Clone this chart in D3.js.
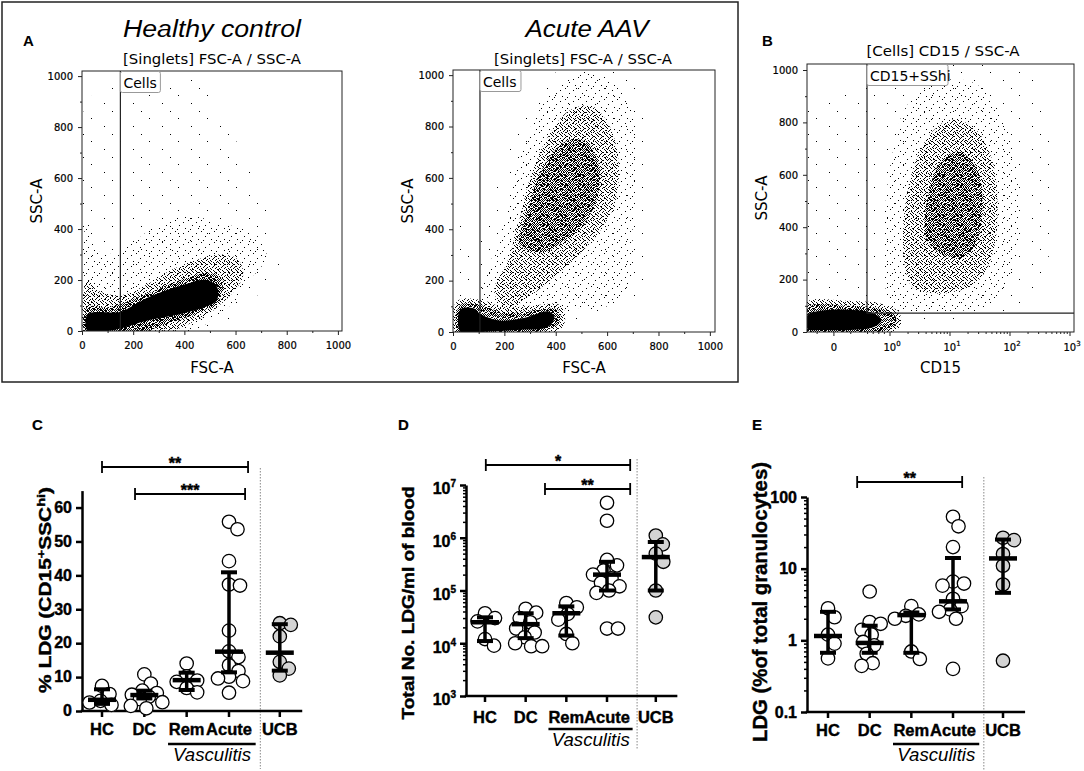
<!DOCTYPE html>
<html>
<head>
<meta charset="utf-8">
<title>LDG figure</title>
<script src="https://cdn.jsdelivr.net/npm/d3@7"></script>
<style>
  body { margin: 0; background: #fff; }
  .flow text { font-family: "DejaVu Sans", sans-serif; fill: #000; }
  .flow .tick text { font-size: 10px; stroke: #000; stroke-width: 0.2; }
  .flow .tick line, .flow .domain { stroke: #222; }
  .prism text { font-family: "Liberation Sans", Arial, sans-serif; font-weight: bold; fill: #000; stroke: #000; stroke-width: 0.4; }
  .prism .tick text { font-size: 16px; }
  .prism .domain, .prism .tick line { stroke: #000; stroke-width: 2.5; }
  .prism .minor .tick line { stroke-width: 1.5; }
</style>
</head>
<body>
<script>
//---------------- data ----------------

//group names on the dot plots
var groups = ["HC", "DC", "Rem", "Acute", "UCB"];

//C: % LDG (CD15+ SSC hi)
var pctPoints = [
  [7.4, 5.0, 3.0, 2.5, 1.8],
  [10.8, 8.1, 6.0, 5.3, 4.8, 4.2, 3.5, 2.6, 1.5, 0.8],
  [14.0, 10.2, 9.0, 8.6, 6.8, 5.5],
  [55.8, 53.6, 44.2, 37.3, 37.0, 23.7, 17.6, 15.9, 13.5, 11.8, 10.1, 9.6, 8.8, 5.4],
  [25.9, 25.4, 22.0, 14.5, 12.5, 10.5]
];
var pctMedian = [3.3, 4.7, 9.1, 17.5, 17.2];
var pctLow = [2.1, 3.7, 6.2, 11.4, 11.9];
var pctHigh = [6.4, 6.0, 11.3, 40.9, 25.6];

//D: total number of LDG per ml of blood
var countPoints = [
  [3.7e4, 3.0e4, 2.6e4, 1.2e4, 9e3],
  [4.5e4, 3.8e4, 3.0e4, 2.5e4, 1.9e4, 1.6e4, 1.3e4, 1.0e4, 8.8e3, 8.8e3],
  [5.8e4, 4.8e4, 3.6e4, 2.8e4, 1.5e4, 1.0e4],
  [4.6e6, 2.1e6, 3.8e5, 3.0e5, 2.4e5, 2.0e5, 1.7e5, 1.4e5, 1.2e5, 1.0e5, 9e4, 1.9e4, 1.9e4],
  [1.1e6, 7.5e5, 5.0e5, 3.5e5, 1.0e5, 3.1e4]
];
var countMedian = [2.5e4, 2.3e4, 3.7e4, 2.0e5, 4.3e5];
var countLow = [1.1e4, 1.25e4, 1.4e4, 1.0e5, 1.0e5];
var countHigh = [3.1e4, 3.7e4, 5.0e4, 3.5e5, 8.3e5];

//E: LDG as % of total granulocytes
var granPoints = [
  [2.8, 2.1, 1.2, 0.9, 0.56],
  [4.8, 1.8, 1.7, 1.4, 1.2, 0.95, 0.85, 0.65, 0.48, 0.44],
  [3.0, 2.3, 2.2, 2.0, 0.7, 0.55],
  [53, 39, 20, 6.6, 6.2, 5.8, 3.8, 3.0, 2.7, 2.5, 2.0, 0.4],
  [27, 25, 16, 11, 6.0, 0.52]
];
var granMedian = [1.15, 0.92, 2.25, 3.5, 13.9];
var granLow = [0.67, 0.67, 0.67, 2.7, 4.6];
var granHigh = [2.5, 1.6, 2.45, 14.1, 25.5];

//tick values
var flowTicks = [0, 200, 400, 600, 800, 1000];
var flowMinor = [100, 300, 500, 700, 900];
var cd15Ticks = [0, 1, 10, 100, 1000];
var pctTicks = [0, 10, 20, 30, 40, 50, 60];
var countTicks = [1e3, 1e4, 1e5, 1e6, 1e7];
var granTicks = [0.1, 1, 10, 100];

//flow plots: outlines of the dot clouds, [FSC/CD15, SSC], by dot density
var hcSolid = [[22,0],[22,65],[150,75],[200,100],[264,134],[394,180],[485,200],[527,175],[527,120],[485,96],[394,69],[264,43],[200,25],[150,10],[100,0]];
var hcDense = [[22,0],[22,95],[100,92],[200,125],[300,165],[400,205],[500,228],[545,205],[545,150],[500,95],[400,50],[300,18],[250,0]];
var hcMid = [[22,0],[22,200],[60,160],[150,140],[250,180],[350,240],[450,280],[550,300],[610,280],[630,220],[580,140],[480,60],[380,10],[360,0]];
var hcSparse = [[22,0],[22,420],[80,300],[200,350],[300,420],[420,450],[550,420],[660,390],[720,330],[700,250],[620,180],[520,80],[450,0]];
var hcFaint = [[22,0],[22,900],[100,950],[250,960],[420,1000],[520,900],[600,750],[720,480],[780,250],[720,180],[600,50],[500,0]];

var aavSolid = [[29,0],[29,88],[80,92],[107,70],[180,45],[280,55],[370,80],[395,60],[370,20],[250,8],[150,3],[107,0]];
var aavLowDense = [[29,0],[29,105],[107,105],[200,75],[320,85],[410,85],[410,30],[300,5],[200,0]];
var aavCore = [[260,340],[290,470],[330,600],[390,700],[460,750],[530,730],[570,640],[560,520],[510,420],[440,360],[350,310]];
var aavMid = [[160,160],[210,270],[255,420],[300,600],[370,760],[450,860],[540,880],[610,800],[645,660],[630,500],[570,390],[490,300],[400,220],[300,140],[210,90]];
var aavSide = [[440,130],[470,230],[560,280],[660,240],[680,160],[600,100],[500,90]];
var aavSparse = [[105,80],[140,250],[200,430],[260,680],[340,870],[450,990],[600,990],[700,850],[720,650],[700,420],[690,200],[620,110],[450,90],[300,60]];
var aavFaint = [[29,80],[29,420],[80,320],[170,560],[260,830],[400,1010],[660,1010],[760,850],[750,500],[720,150],[560,60],[150,50]];

var cdSolid = [[-0.47,12],[-0.47,65],[-0.2,82],[0.3,85],[0.7,72],[0.85,45],[0.7,18],[0.3,8],[-0.2,8]];
var cdLowDense = [[-0.47,0],[-0.47,95],[0.2,100],[0.8,90],[1.2,65],[1.25,30],[0.9,5],[0.3,0]];
var cdCore = [[4,360],[4.5,540],[7,650],[14,690],[28,620],[35,470],[26,330],[14,280],[7,300]];
var cdMid = [[1.8,240],[1.7,430],[2.4,620],[4.5,750],[10,810],[25,780],[50,660],[62,450],[50,290],[28,190],[10,150],[4.5,150],[2.4,170]];
var cdSparse = [[1.1,90],[0.9,380],[1.1,680],[2,870],[8,960],[30,940],[90,780],[140,500],[110,230],[50,110],[15,80],[3,75]];
var cdFaint = [[-0.47,100],[-0.47,870],[0.3,920],[0.9,1000],[40,1020],[250,960],[500,650],[400,250],[150,100],[40,70],[1,90],[0.5,110]];

//---------------- drawing ----------------
var width = 1084,
    height = 771;

var svg = d3.select("body")
    .append("svg")
    .attr("width", width)
    .attr("height", height);

var defs = svg.append("defs");

//stipple patterns standing in for the cytometer dots
var patterns = {
  faint: {w: 29, h: 23, dots: [[4,3],[17,11],[25,19]]},
  sparse: {w: 13, h: 11, dots: [[1,2],[6,0],[10,5],[3,8],[8,9]]},
  mid: {w: 9, h: 8, dots: [[0,0],[4,0],[7,1],[2,2],[5,3],[8,4],[1,5],[6,6],[3,7],[0,3],[4,5],[7,7],[2,6],[6,2],[3,4],[8,0]]},
  dense: {w: 6, h: 5, dots: [[0,0],[2,0],[4,0],[1,1],[3,1],[5,2],[0,2],[2,3],[4,3],[1,4],[3,4],[5,4]]}
};
//the next lighter texture, used to feather the edge of every zone
var lighter = {solid: "dense", dense: "mid", mid: "sparse", sparse: "faint"};
var edgeWidth = {solid: 5, dense: 10, mid: 14, sparse: 16};

Object.keys(patterns).forEach(function(k){
  var p = patterns[k];
  defs.append("pattern")
      .attr("id", "pat-" + k)
      .attr("patternUnits", "userSpaceOnUse")
      .attr("width", p.w)
      .attr("height", p.h)
    .selectAll("rect")
    .data(p.dots)
    .join("rect")
      .attr("x", function(d){ return d[0]; })
      .attr("y", function(d){ return d[1]; })
      .attr("width", 1)
      .attr("height", 1)
      .attr("fill", "#000");
});

//frame round panel A
svg.append("rect")
    .attr("x", 2).attr("y", 2)
    .attr("width", 736).attr("height", 380)
    .attr("fill", "none")
    .attr("stroke", "#222")
    .attr("stroke-width", 1.5);

function flowPanel(cfg){
  var box = cfg.box; //left, top, right, bottom
  var g = svg.append("g").attr("class", "flow");

  defs.append("clipPath").attr("id", cfg.id)
    .append("rect")
      .attr("x", box[0]).attr("y", box[1])
      .attr("width", box[2] - box[0]).attr("height", box[3] - box[1]);

  var shape = d3.line()
      .x(function(d){ return cfg.x(d[0]); })
      .y(function(d){ return cfg.y(d[1]); })
      .curve(d3.curveCatmullRomClosed);

  g.append("g")
      .attr("clip-path", "url(#" + cfg.id + ")")
    .selectAll("path")
    .data(cfg.zones)
    .join("path")
      .attr("d", function(d){ return shape(d[0]); })
      .attr("fill", function(d){ return d[1] == "solid" ? "#000" : "url(#pat-" + d[1] + ")"; })
      .attr("stroke", function(d){ return lighter[d[1]] ? "url(#pat-" + lighter[d[1]] + ")" : "none"; })
      .attr("stroke-width", function(d){ return edgeWidth[d[1]] || 0; })
      .attr("stroke-linejoin", "round");

  g.append("rect")
      .attr("x", box[0]).attr("y", box[1])
      .attr("width", box[2] - box[0]).attr("height", box[3] - box[1])
      .attr("fill", "none")
      .attr("stroke", "#222");

  //y axis, major and minor ticks
  g.append("g")
      .attr("transform", "translate(" + box[0] + ",0)")
      .call(d3.axisLeft(cfg.y).tickValues(flowTicks).tickFormat(d3.format("d")).tickSize(4).tickPadding(5).tickSizeOuter(0));
  g.append("g")
      .attr("transform", "translate(" + box[0] + ",0)")
      .call(d3.axisLeft(cfg.y).tickValues(flowMinor).tickSize(2).tickFormat("").tickSizeOuter(0));

  //x axis
  if (cfg.drawX) {
    cfg.drawX(g, box);
  } else {
    g.append("g")
        .attr("transform", "translate(0," + box[3] + ")")
        .call(d3.axisBottom(cfg.x).tickValues(flowTicks).tickFormat(d3.format("d")).tickSize(4).tickPadding(7).tickSizeOuter(0));
    g.append("g")
        .attr("transform", "translate(0," + box[3] + ")")
        .call(d3.axisBottom(cfg.x).tickValues(flowMinor).tickSize(2).tickFormat("").tickSizeOuter(0));
  }
  g.selectAll(".domain").remove();

  //gate
  g.append("path")
      .attr("d", cfg.gate)
      .attr("fill", "none")
      .attr("stroke", "#222")
      .attr("stroke-width", 1.2);
  g.append("rect")
      .attr("x", cfg.gateBox[0]).attr("y", box[1] + 0.5)
      .attr("width", cfg.gateBox[1]).attr("height", 21)
      .attr("rx", 2)
      .attr("fill", "#fff")
      .attr("stroke", "#999");
  g.append("text")
      .attr("x", cfg.gateBox[0] + 3).attr("y", box[1] + 17)
      .style("font-size", "14px")
      .text(cfg.gateName);

  //axis titles
  g.append("text")
      .attr("transform", "translate(" + (box[0] - 40) + "," + ((box[1] + box[3]) / 2) + ") rotate(-90)")
      .attr("text-anchor", "middle")
      .style("font-size", "15px")
      .text("SSC-A");
  g.append("text")
      .attr("x", (box[0] + box[2]) / 2).attr("y", 373)
      .attr("text-anchor", "middle")
      .style("font-size", "15px")
      .text(cfg.xTitle);
  g.append("text")
      .attr("x", cfg.subX).attr("y", cfg.subY)
      .attr("text-anchor", "middle")
      .attr("textLength", cfg.subLen)
      .attr("lengthAdjust", "spacingAndGlyphs")
      .style("font-size", "14.5px")
      .text(cfg.sub);
  return g;
}

//A, healthy control
var hcX = d3.scaleLinear().domain([0, 1016]).range([82, 342]);
var hcY = d3.scaleLinear().domain([0, 1020]).range([331, 71]);
flowPanel({
  id: "clipHC", box: [82, 71, 342, 331], x: hcX, y: hcY,
  zones: [[hcFaint, "faint"], [hcSparse, "sparse"], [hcMid, "mid"], [hcDense, "dense"], [hcSolid, "solid"]],
  gate: "M" + hcX(150) + "," + 71 + "V" + 331,
  gateBox: [hcX(150), 40], gateName: "Cells",
  xTitle: "FSC-A", sub: "[Singlets] FSC-A / SSC-A", subX: 212, subY: 64, subLen: 178
});

//A, acute AAV
var aavX = d3.scaleLinear().domain([0, 1020]).range([453, 715]);
var aavY = d3.scaleLinear().domain([0, 1020]).range([332, 70]);
flowPanel({
  id: "clipAAV", box: [453, 70, 715, 332], x: aavX, y: aavY,
  zones: [[aavFaint, "faint"], [aavSparse, "sparse"], [aavSide, "sparse"], [aavMid, "mid"], [aavCore, "dense"], [aavLowDense, "dense"], [aavSolid, "solid"]],
  gate: "M" + aavX(105) + "," + 70 + "V" + 332,
  gateBox: [aavX(105), 41], gateName: "Cells",
  xTitle: "FSC-A", sub: "[Singlets] FSC-A / SSC-A", subX: 583, subY: 64, subLen: 178
});

//B, CD15 on a linear-then-log (biexponential like) axis
var cdLin = d3.scaleLinear().domain([-0.48, 1]).range([807, 890]);
var cdLog = d3.scaleLog().domain([1, 1000]).range([890, 1070]);
function cdX(v){ return v <= 1 ? cdLin(v) : cdLog(v); }
var cdY = d3.scaleLinear().domain([0, 1000]).range([332, 70]);
var cdMinor = [-0.3, 0.3, 0.6, 0.7, 0.8, 0.9];
[1, 10, 100].forEach(function(dec){ d3.range(2, 10).forEach(function(m){ cdMinor.push(dec * m); }); });

flowPanel({
  id: "clipCD", box: [807, 64, 1074, 332], x: cdX, y: cdY,
  zones: [[cdFaint, "faint"], [cdSparse, "sparse"], [cdMid, "mid"], [cdCore, "dense"], [cdLowDense, "dense"], [cdSolid, "solid"]],
  gate: "M" + cdX(0.59) + "," + 64 + "V" + cdY(72) + "H" + 1074,
  gateBox: [cdX(0.59), 81], gateName: "CD15+SShi",
  xTitle: "CD15", sub: "[Cells] CD15 / SSC-A", subX: 943, subY: 56, subLen: 153,
  drawX: function(g, box){
    g.selectAll(".cdmaj").data(cd15Ticks).join("line")
        .attr("x1", cdX).attr("x2", cdX)
        .attr("y1", box[3]).attr("y2", box[3] + 4)
        .attr("stroke", "#222");
    g.selectAll(".cdmin").data(cdMinor).join("line")
        .attr("x1", cdX).attr("x2", cdX)
        .attr("y1", box[3]).attr("y2", box[3] + 2)
        .attr("stroke", "#222");
    g.selectAll(".cdlab").data(cd15Ticks).join("text")
        .attr("x", function(d){ return cdX(d) + (d == 0 ? 0 : 2); })
        .attr("y", box[3] + 19)
        .attr("text-anchor", "middle")
        .style("font-size", "10px")
        .style("stroke", "#000").style("stroke-width", 0.2)
        .each(function(d){
          var t = d3.select(this);
          if (d == 0) { t.text("0"); return; }
          t.append("tspan").text("10");
          t.append("tspan").attr("dy", -5).style("font-size", "7px").text(Math.round(Math.log10(d)));
        });
  }
});

//flow titles and panel letters
svg.append("text")
    .attr("x", 212).attr("y", 37)
    .attr("text-anchor", "middle")
    .attr("textLength", 178).attr("lengthAdjust", "spacingAndGlyphs")
    .style("font", "italic 23px 'Liberation Sans', Arial, sans-serif")
    .text("Healthy control");
svg.append("text")
    .attr("x", 587).attr("y", 37)
    .attr("text-anchor", "middle")
    .attr("textLength", 123).attr("lengthAdjust", "spacingAndGlyphs")
    .style("font", "italic 23px 'Liberation Sans', Arial, sans-serif")
    .text("Acute AAV");
svg.append("text").attr("x", 23).attr("y", 46)
    .style("font", "bold 15px 'Liberation Sans', Arial, sans-serif").text("A");
svg.append("text").attr("x", 762).attr("y", 46)
    .style("font", "bold 15px 'Liberation Sans', Arial, sans-serif").text("B");

//---------------- dot plots C, D, E ----------------
var catPos = [0, 1, 2, 3, 4.2];

//spread points sideways so that they do not sit on each other
function swarm(vals, y, cx){
  var placed = [];
  vals.slice().sort(d3.descending).forEach(function(v){
    var py = y(v), bestOff = 0, bestGap = -1;
    for (var k = 0; k <= 72; k++) {
      var off = (k % 2 ? 1 : -1) * Math.ceil(k / 2) * 0.5;
      var gap = d3.min(placed, function(p){ return Math.hypot(p.x - cx - off, p.y - py); });
      if (gap === undefined || gap >= 11) { bestOff = off; break; }
      if (gap > bestGap) { bestGap = gap; bestOff = off; }
    }
    placed.push({x: cx + bestOff, y: py});
  });
  return placed;
}

function supLabel(sel, base, exp, dy, size){
  sel.append("tspan").text(base);
  sel.append("tspan").attr("dy", dy).style("font-size", size).text(exp);
}

function dotPanel(cfg){
  var g = svg.append("g").attr("class", "prism");
  var x = cfg.x, y = cfg.y, left = cfg.left, bottom = cfg.bottom;

  //divider before UCB
  g.append("line")
      .attr("x1", x(3.74)).attr("x2", x(3.74))
      .attr("y1", cfg.divTop).attr("y2", cfg.divBottom)
      .attr("stroke", "#888")
      .attr("stroke-dasharray", "1.5,1.5");

  //y axis
  var ax = g.append("g")
      .attr("transform", "translate(" + left + ",0)")
      .call(d3.axisLeft(y).tickValues(cfg.ticks).tickSize(6).tickPadding(4).tickSizeOuter(0)
        .tickFormat(cfg.tickText ? "" : cfg.fmt));
  if (cfg.tickText) {
    ax.selectAll(".tick text").each(function(d){ cfg.tickText(d3.select(this), d); });
  }
  ax.selectAll(".tick text").attr("dy", cfg.tickDy);
  if (cfg.minor) {
    g.append("g")
        .attr("class", "minor")
        .attr("transform", "translate(" + left + ",0)")
        .call(d3.axisLeft(y).tickValues(cfg.minor).tickSize(3).tickFormat("").tickSizeOuter(0))
      .select(".domain").remove();
  }

  //x axis
  g.append("line")
      .attr("x1", left - 1.25).attr("x2", x(4.73))
      .attr("y1", bottom).attr("y2", bottom)
      .attr("stroke", "#000").attr("stroke-width", 2.5);
  g.selectAll(".cat").data(groups).join("line")
      .attr("x1", function(d, i){ return x(catPos[i]); })
      .attr("x2", function(d, i){ return x(catPos[i]); })
      .attr("y1", bottom).attr("y2", bottom + 6)
      .attr("stroke", "#000").attr("stroke-width", 2.5);
  g.selectAll(".catlab").data(groups).join("text")
      .attr("x", function(d, i){ return x(catPos[i]); })
      .attr("y", cfg.catY)
      .attr("text-anchor", "middle")
      .style("font-size", "16.5px")
      .text(function(d){ return d; });

  //Vasculitis bracket
  g.append("line")
      .attr("x1", x(1.56)).attr("x2", x(3.63))
      .attr("y1", cfg.vascY).attr("y2", cfg.vascY)
      .attr("stroke", "#000").attr("stroke-width", 2.5);
  g.append("text")
      .attr("x", x(2.6)).attr("y", cfg.vascY + 17)
      .attr("text-anchor", "middle")
      .attr("textLength", 78).attr("lengthAdjust", "spacingAndGlyphs")
      .style("font-weight", "normal").style("font-style", "italic").style("font-size", "18px")
      .style("stroke-width", 0)
      .text("Vasculitis");

  //points
  cfg.points.forEach(function(vals, i){
    g.append("g").selectAll("circle")
      .data(swarm(vals, y, x(catPos[i])))
      .join("circle")
        .attr("cx", function(d){ return d.x; })
        .attr("cy", function(d){ return d.y; })
        .attr("r", 6.7)
        .attr("fill", i == 4 ? "#d4d4d4" : "#fff")
        .attr("stroke", "#000")
        .attr("stroke-width", 1.3);
  });

  //median with range
  groups.forEach(function(name, i){
    var cx = x(catPos[i]);
    g.append("line")
        .attr("x1", cx).attr("x2", cx)
        .attr("y1", y(cfg.low[i])).attr("y2", y(cfg.high[i]))
        .attr("stroke", "#000").attr("stroke-width", 3.5);
    [cfg.low[i], cfg.high[i]].forEach(function(v){
      g.append("line")
          .attr("x1", cx - 8).attr("x2", cx + 8)
          .attr("y1", y(v)).attr("y2", y(v))
          .attr("stroke", "#000").attr("stroke-width", 4);
    });
    g.append("line")
        .attr("x1", cx - 14).attr("x2", cx + 14)
        .attr("y1", y(cfg.median[i])).attr("y2", y(cfg.median[i]))
        .attr("stroke", "#000").attr("stroke-width", 4.5);
  });

  //significance bars
  cfg.sig.forEach(function(s){
    var x1 = x(s[0]), x2 = x(s[1]);
    g.append("path")
        .attr("d", "M" + x1 + "," + (s[2] - 6) + "V" + (s[2] + 6) + "M" + x1 + "," + s[2] + "H" + x2 +
                   "M" + x2 + "," + (s[2] - 6) + "V" + (s[2] + 6))
        .attr("fill", "none").attr("stroke", "#000").attr("stroke-width", 1.8);
    g.append("text")
        .attr("x", (x1 + x2) / 2).attr("y", s[2] + 2)
        .attr("text-anchor", "middle")
        .style("font-size", "16px")
        .text(s[3]);
  });

  //y title and panel letter
  var yt = g.append("text")
      .attr("transform", "translate(" + cfg.title[0] + "," + cfg.title[1] + ") rotate(-90)")
      .attr("text-anchor", "middle")
      .attr("textLength", cfg.title[3]).attr("lengthAdjust", "spacingAndGlyphs")
      .style("font-size", cfg.title[2]);
  cfg.titleText(yt);
  g.append("text")
      .attr("x", cfg.letter[1]).attr("y", 430)
      .style("font-size", "15px")
      .style("stroke-width", 0.2)
      .text(cfg.letter[0]);
}

//C
dotPanel({
  x: d3.scaleLinear().domain([0, 3]).range([102, 229]),
  y: d3.scaleLinear().domain([0, 65]).range([711, 490.6]),
  left: 82, bottom: 711,
  ticks: pctTicks, fmt: d3.format("d"), tickDy: "0.3em",
  points: pctPoints, median: pctMedian, low: pctLow, high: pctHigh,
  divTop: 468, divBottom: 769, catY: 735, vascY: 744,
  sig: [[0, 3.45, 467, "**"], [0.78, 3.38, 494, "***"]],
  title: [51, 590, "16px", 206],
  titleText: function(t){
    t.append("tspan").text("% LDG (CD15");
    t.append("tspan").attr("dy", -6).style("font-size", "11px").text("+");
    t.append("tspan").attr("dy", 6).text("SSC");
    t.append("tspan").attr("dy", -6).style("font-size", "11px").text("hi");
    t.append("tspan").attr("dy", 6).text(")");
  },
  letter: ["C", 32]
});

//D
var dMinor = [];
[1e3, 1e4, 1e5, 1e6].forEach(function(dec){ d3.range(2, 10).forEach(function(m){ dMinor.push(dec * m); }); });
dotPanel({
  x: d3.scaleLinear().domain([0, 3]).range([485, 607]),
  y: d3.scaleLog().domain([1e3, 1e7]).range([696, 485]),
  left: 466, bottom: 696,
  ticks: countTicks, minor: dMinor, tickDy: "0.55em",
  tickText: function(t, d){ supLabel(t, "10", Math.round(Math.log10(d)), -7, "10px"); },
  points: countPoints, median: countMedian, low: countLow, high: countHigh,
  divTop: 459, divBottom: 750, catY: 723, vascY: 729,
  sig: [[0.02, 3.57, 465, "*"], [1.475, 3.57, 489, "**"]],
  title: [414, 603, "16px", 233],
  titleText: function(t){ t.text("Total No. LDG/ml of blood"); },
  letter: ["D", 398]
});

//E
var eMinor = [];
[0.1, 1, 10].forEach(function(dec){ d3.range(2, 10).forEach(function(m){ eMinor.push(dec * m); }); });
dotPanel({
  x: d3.scaleLinear().domain([0, 3]).range([828, 953]),
  y: d3.scaleLog().domain([0.1, 100]).range([712, 497]),
  left: 807, bottom: 712,
  ticks: granTicks, minor: eMinor, fmt: function(d){ return d < 1 ? "0.1" : String(d); }, tickDy: "0.33em",
  points: granPoints, median: granMedian, low: granLow, high: granHigh,
  divTop: 477, divBottom: 771, catY: 736, vascY: 744,
  sig: [[0.70, 3.22, 482, "**"]],
  title: [767, 602, "20px", 280],
  titleText: function(t){ t.text("LDG (%of total granulocytes)"); },
  letter: ["E", 752]
});
</script>
</body>
</html>
